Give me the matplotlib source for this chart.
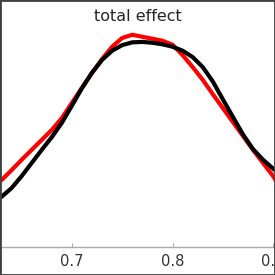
import matplotlib
matplotlib.use("Agg")
import matplotlib.pyplot as plt
from matplotlib.patches import Rectangle

# density estimates
x_vals = [0.625, 0.63, 0.64, 0.65, 0.66, 0.67, 0.68, 0.69, 0.70, 0.71, 0.72,
          0.73, 0.74, 0.75, 0.76, 0.77, 0.78, 0.79, 0.80, 0.81, 0.82, 0.83,
          0.84, 0.85, 0.86, 0.87, 0.88, 0.89, 0.90, 0.905]
red_density = [1.60, 1.68, 1.93, 2.19, 2.44, 2.69, 2.94, 3.24, 3.62, 4.00, 4.37,
               4.72, 5.03, 5.25, 5.33, 5.28, 5.23, 5.18, 5.08, 4.82, 4.52, 4.20,
               3.84, 3.49, 3.14, 2.79, 2.44, 2.11, 1.78, 1.58]
black_density = [1.20, 1.26, 1.48, 1.78, 2.11, 2.44, 2.76, 3.12, 3.55, 3.99, 4.38,
                 4.70, 4.93, 5.07, 5.14, 5.15, 5.13, 5.09, 5.03, 4.93, 4.77, 4.52,
                 4.16, 3.71, 3.27, 2.83, 2.46, 2.19, 1.97, 1.87]
x_ticks = [0.7, 0.8, 0.9]
title = "total effect"

fig = plt.figure(figsize=(2.75, 2.75), dpi=100)
ax = fig.add_axes([0.0, 28 / 275, 1.0, 219 / 275])

ax.plot(x_vals, red_density, color="red", lw=3, solid_capstyle="round")
ax.plot(x_vals, black_density, color="black", lw=3, solid_capstyle="round")

ax.set_xlim(0.6285, 0.9019)
ax.set_ylim(0, 5.5)
ax.set_xticks(x_ticks)
ax.set_yticks([])
for side in ["left", "right", "top"]:
    ax.spines[side].set_visible(False)
ax.spines["bottom"].set_color("#aaaaaa")
ax.spines["bottom"].set_linewidth(1)
ax.tick_params(axis="x", direction="in", length=3, color="#aaaaaa",
               labelsize=10.5, labelcolor="#333333", pad=5)

fig.text(0.5, (275 - 21) / 275, title, ha="center", va="baseline",
         fontsize=11.5, color="#262626")

fig.patches.append(Rectangle((0, 0), 1, 1, transform=fig.transFigure,
                             fill=False, edgecolor="#404040", lw=2.0))

fig.savefig("out.png", dpi=100)
